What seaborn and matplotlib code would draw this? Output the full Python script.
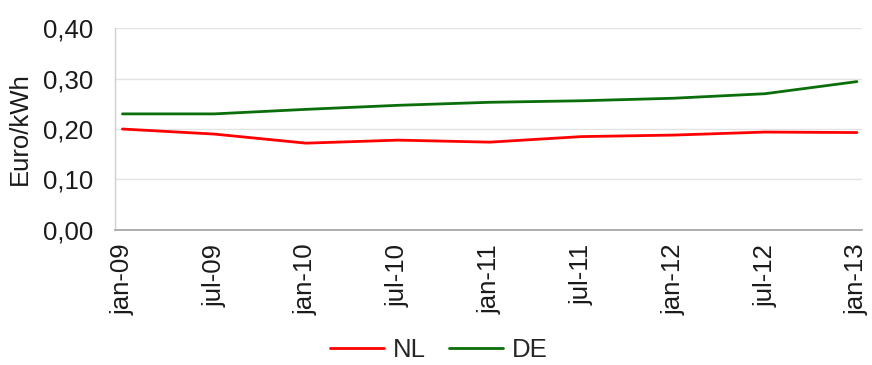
import matplotlib
matplotlib.use("Agg")
import matplotlib.pyplot as plt
import seaborn as sns
import pandas as pd
from matplotlib.ticker import FuncFormatter, MultipleLocator
from matplotlib.lines import Line2D

months = ["jan-09", "jul-09", "jan-10", "jul-10", "jan-11",
          "jul-11", "jan-12", "jul-12", "jan-13"]
nl = [0.200, 0.190, 0.172, 0.178, 0.174, 0.185, 0.188, 0.194, 0.193]
de = [0.230, 0.230, 0.239, 0.247, 0.253, 0.256, 0.261, 0.270, 0.294]

df = pd.DataFrame({"maand": months * 2,
                   "prijs": nl + de,
                   "land": ["NL"] * len(nl) + ["DE"] * len(de)})

sns.set_theme(style="white")
plt.rcParams["font.family"] = ["Liberation Sans", "DejaVu Sans"]

FS = 18.5
fig = plt.figure(figsize=(8.72, 3.65), dpi=100)
ax = fig.add_axes([0.132, 0.370, 0.856, 0.553])

sns.lineplot(data=df, x="maand", y="prijs", hue="land",
             palette={"NL": "#ff0000", "DE": "#0a6e0a"},
             linewidth=2, sort=False, ax=ax, legend=False)

ax.set_ylim(0, 0.40)
ax.set_xlim(-0.08, 8.05)
ax.yaxis.set_major_locator(MultipleLocator(0.10))
ax.yaxis.set_major_formatter(FuncFormatter(lambda v, p: f"{v:.2f}".replace(".", ",")))
ax.grid(axis="y", color="#e3e3e3", linewidth=1)
ax.set_axisbelow(True)

for side in ("top", "right"):
    ax.spines[side].set_visible(False)
ax.spines["left"].set_color("#d0d0d0")
ax.spines["bottom"].set_color("#a0a0a0")
ax.spines["left"].set_linewidth(1)
ax.spines["bottom"].set_linewidth(1.2)

ax.tick_params(axis="both", length=0, labelsize=FS, colors="#1a1a1a")
ax.tick_params(axis="x", pad=10)
ax.tick_params(axis="y", pad=16)
plt.setp(ax.get_xticklabels(), rotation=90)

ax.set_xlabel("")
ax.set_ylabel("Euro/kWh", fontsize=FS, color="#1a1a1a", labelpad=8)

handles = [Line2D([], [], color="#ff0000", linewidth=2),
           Line2D([], [], color="#0a6e0a", linewidth=2)]
fig.legend(handles, ["NL", "DE"], loc="center", bbox_to_anchor=(0.503, 0.04),
           ncol=2, frameon=False, fontsize=FS, handlelength=2.1,
           handletextpad=0.35, columnspacing=0.9, borderpad=0.2)

fig.savefig("out.png", dpi=100, facecolor="white")
